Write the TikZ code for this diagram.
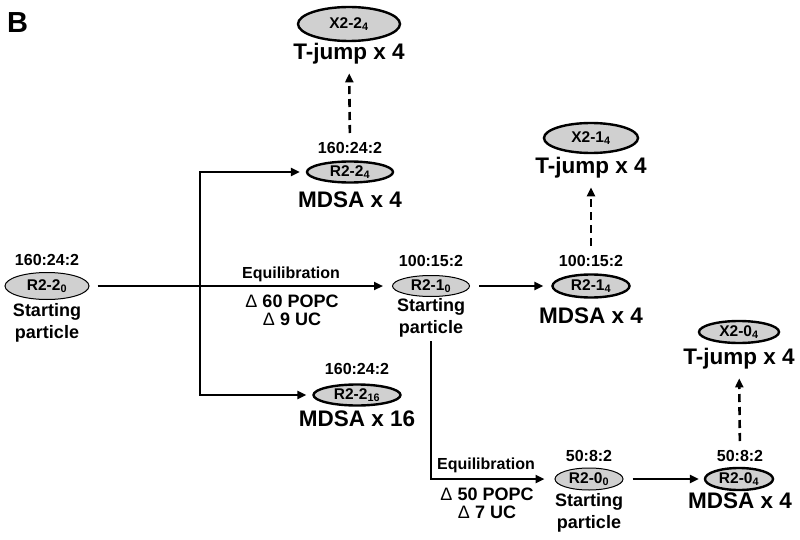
\documentclass[tikz,border=0pt]{standalone}
\usepackage{fontspec}
\setmainfont{Liberation Sans}
\usetikzlibrary{shapes.geometric,arrows.meta}
\definecolor{cellgray}{RGB}{208,208,208}

\begin{document}
\begin{tikzpicture}[
			x=1pt, y=-1pt,
			cell/.style={ellipse, draw, fill=cellgray, line width=2.4pt, inner sep=0pt, font=\fontsize{15.5}{15.5}\selectfont\bfseries},
			start/.style={cell, line width=1pt},
			ratio/.style={anchor=north, inner sep=0pt, font=\fontsize{16}{16}\selectfont\bfseries},
			run/.style={anchor=north, inner sep=0pt, font=\fontsize{22.5}{24}\selectfont\bfseries},
			note/.style={anchor=north, inner sep=0pt, align=center, font=\fontsize{18}{22}\selectfont\bfseries},
			delta/.style={anchor=north, inner sep=0pt, align=center, font=\fontsize{18}{18}\selectfont\bfseries},
			eqlabel/.style={anchor=north, inner sep=0pt, font=\fontsize{16}{16}\selectfont\bfseries},
			arrow/.style={->, line width=2.6pt, >={Triangle[length=9pt,width=8pt]}, shorten >=6pt},
			darrow/.style={arrow, dash pattern=on 8pt off 5pt, shorten <=9pt, shorten >=9pt}
		]
		\useasboundingbox (0,0) rectangle (800,540);
		\node[anchor=north west, inner sep=0pt, font=\fontsize{29}{29}\selectfont\bfseries] (panel) at (7,12) {B};

		% First particle
		\node[ratio] (n220) at (47,254) {160:24:2};
		\node[start, minimum width=84pt, minimum height=27pt] (r220) at (47,286) {R2-2\textsubscript{0}};
		\node[note] (s220) at (47,303) {Starting\\particle};

		% Runs on the first particle
		\node[cell, minimum width=102pt, minimum height=34pt] (x224) at (349,24) {X2-2\textsubscript{4}};
		\node[run] (tj224) at (349,43) {T-jump x 4};
		\node[ratio] (n224) at (350,142) {160:24:2};
		\node[cell, minimum width=86pt, minimum height=21pt] (r224) at (350,172) {R2-2\textsubscript{4}};
		\node[run] (md224) at (350,192) {MDSA x 4};

		\node[ratio] (n2216) at (357,363) {160:24:2};
		\node[cell, minimum width=87pt, minimum height=21pt] (r2216) at (357,395) {R2-2\textsubscript{16}};
		\node[run] (md2216) at (357,411) {MDSA x 16};

		% First equilibration
		\node[eqlabel] (eq1) at (291,267) {Equilibration};
		\node[delta] (d1) at (292,295) {\textmd{Δ} 60 POPC\\\textmd{Δ} 9 UC};

		% Second particle
		\node[ratio] (n210) at (431,255) {100:15:2};
		\node[start, minimum width=77pt, minimum height=21pt] (r210) at (431,286) {R2-1\textsubscript{0}};
		\node[note] (s210) at (431,298) {Starting\\particle};

		\node[cell, minimum width=94pt, minimum height=30pt] (x214) at (591,138) {X2-1\textsubscript{4}};
		\node[run] (tj214) at (591,157) {T-jump x 4};
		\node[ratio] (n214) at (591,255) {100:15:2};
		\node[cell, minimum width=77pt, minimum height=23pt] (r214) at (591,286) {R2-1\textsubscript{4}};
		\node[run] (md214) at (591,308) {MDSA x 4};

		% Second equilibration
		\node[eqlabel] (eq2) at (486,458) {Equilibration};
		\node[delta] (d2) at (487,488) {\textmd{Δ} 50 POPC\\\textmd{Δ} 7 UC};

		% Third particle
		\node[ratio] (n200) at (589,450) {50:8:2};
		\node[start, minimum width=68pt, minimum height=22pt] (r200) at (589,479) {R2-0\textsubscript{0}};
		\node[note] (s200) at (589,493) {Starting\\particle};

		\node[cell, minimum width=80pt, minimum height=22pt] (x204) at (739,332) {X2-0\textsubscript{4}};
		\node[run] (tj204) at (739,348) {T-jump x 4};
		\node[ratio] (n204) at (740,450) {50:8:2};
		\node[cell, minimum width=68pt, minimum height=22pt] (r204) at (739,479) {R2-0\textsubscript{4}};
		\node[run] (md204) at (740,493) {MDSA x 4};

		% Connectors
		\coordinate (split) at (200,286);
		\draw[arrow, shorten <=8pt, shorten >=9pt] (r220) -- (r210);
		\draw[arrow] (split) |- (r224);
		\draw[arrow] (split) |- (r2216);
		\draw[arrow, shorten <=9pt, shorten >=8pt] (r210) -- (r214);
		\draw[arrow, shorten <=4pt, shorten >=10pt] (s210) |- (r200);
		\draw[arrow, shorten <=9pt, shorten >=5pt] (r200) -- (r204);

		\draw[darrow] (n224) -- (tj224);
		\draw[darrow] (n214) -- (tj214);
		\draw[darrow] (n204) -- (tj204);

	\end{tikzpicture}
\end{document}
